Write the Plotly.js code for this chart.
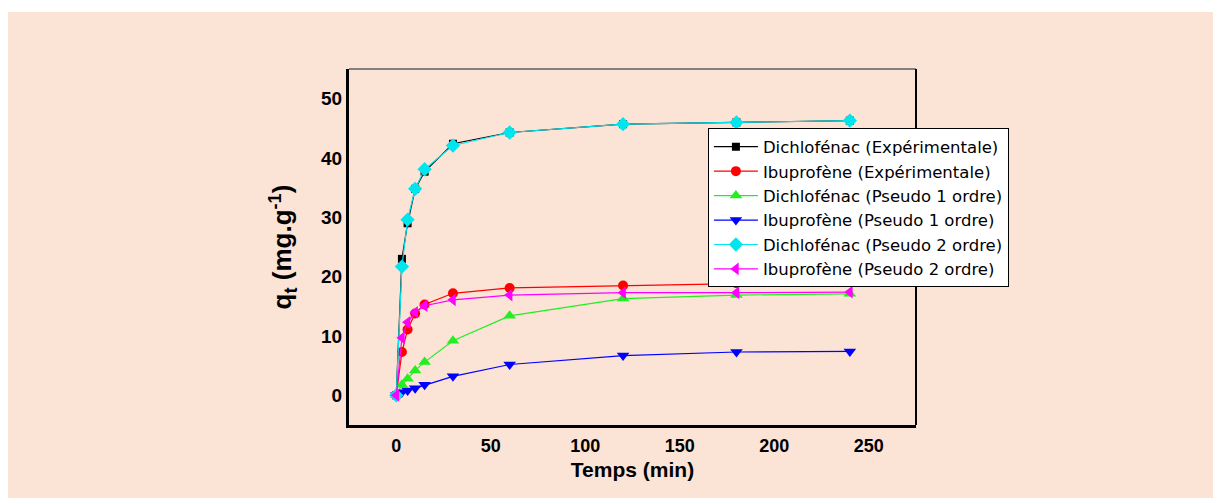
<!DOCTYPE html>
<html>
<head>
<meta charset="utf-8">
<script src="https://cdn.plot.ly/plotly-3.0.1.min.js"></script>
<style>
  html, body { margin: 0; padding: 0; background: #ffffff; width: 1213px; height: 498px; overflow: hidden; }
  #chart { position: absolute; left: 8px; top: 12px; width: 1205px; height: 486px; }
</style>
</head>
<body>
<div id="chart"></div>
<script>
// Time points (min)
const temps = [0, 3, 6, 10, 15, 30, 60, 120, 180, 240];

// q_t values (mg/g)
const dichloExp   = [0, 23.0, 29.0, 34.8, 37.7, 42.4, 44.3, 45.7, 46.0, 46.3];
const ibuExp      = [0, 7.3, 11.1, 13.8, 15.3, 17.2, 18.1, 18.5, 18.9, 19.2];
const dichloPs1   = [0, 1.8, 2.8, 4.2, 5.6, 9.2, 13.4, 16.3, 16.9, 17.1];
const ibuPs1      = [0, 0.5, 0.8, 1.2, 1.8, 3.2, 5.2, 6.7, 7.3, 7.4];
const dichloPs2   = [0, 21.7, 29.6, 34.8, 38.1, 42.1, 44.3, 45.7, 46.0, 46.3];
const ibuPs2      = [0, 9.7, 12.3, 14.0, 15.1, 16.1, 16.9, 17.3, 17.3, 17.4];

const seriesNames = [
  'Dichlofénac (Expérimentale)',
  'Ibuprofène (Expérimentale)',
  'Dichlofénac (Pseudo 1 ordre)',
  'Ibuprofène (Pseudo 1 ordre)',
  'Dichlofénac (Pseudo 2 ordre)',
  'Ibuprofène (Pseudo 2 ordre)'
];
const xTicks = [0, 50, 100, 150, 200, 250];
const yTicks = [0, 10, 20, 30, 40, 50];

const seriesData = [dichloExp, ibuExp, dichloPs1, ibuPs1, dichloPs2, ibuPs2];
const colors  = ['#000000', '#FF0000', '#22EE22', '#0000FF', '#00E5EE', '#FF00FF'];
const symbols = ['square', 'circle', 'triangle-up', 'triangle-down', 'diamond', 'triangle-left'];
const sizes   = [8, 10, 11, 11, 11, 11];

const traces = seriesData.map((ys, i) => ({
  x: temps,
  y: ys,
  name: seriesNames[i],
  type: 'scatter',
  mode: 'lines+markers',
  line: { color: colors[i], width: 1.2 },
  marker: { color: colors[i], symbol: symbols[i], size: sizes[i] }
}));

const FONT = 'Liberation Sans, Arial, sans-serif';

const layout = {
  width: 1205,
  height: 486,
  paper_bgcolor: '#FBE3D6',
  plot_bgcolor: '#FBE3D6',
  margin: { l: 341, r: 297, t: 57, b: 73, pad: 0 },
  showlegend: true,
  legend: {
    x: 0.633, y: 0.833, xanchor: 'left', yanchor: 'top',
    bgcolor: '#ffffff', bordercolor: '#000000', borderwidth: 1,
    font: { family: 'DejaVu Sans, Verdana, sans-serif', size: 16.5, color: '#000000' },
    itemwidth: 44,
    tracegroupgap: 0
  },
  xaxis: {
    range: [-25, 275],
    tickvals: xTicks,
    ticktext: xTicks.map(String),
    showgrid: false, zeroline: false,
    showline: true, linecolor: '#000000', linewidth: 3,
    ticks: '', ticklabelstandoff: 2,
    tickfont: { family: FONT, size: 18, color: '#000000', weight: 'bold' },
    title: { text: 'Temps (min)', font: { family: FONT, size: 21, color: '#000000', weight: 'bold' }, standoff: 8 }
  },
  yaxis: {
    range: [-5, 55],
    tickvals: yTicks,
    ticktext: yTicks.map(String),
    showgrid: false, zeroline: false,
    showline: true, linecolor: '#000000', linewidth: 3,
    ticks: '', ticklabelstandoff: 0,
    tickfont: { family: FONT, size: 19, color: '#000000', weight: 'bold' },
    title: { text: 'q<sub>t</sub> (mg.g<sup>-1</sup>)', font: { family: FONT, size: 26, color: '#000000', weight: 'bold' }, standoff: 22 }
  },
  shapes: [
    { type: 'line', xref: 'paper', yref: 'paper', x0: 0, x1: 1, y0: 1, y1: 1, line: { color: '#808080', width: 2 } },
    { type: 'line', xref: 'paper', yref: 'paper', x0: 1, x1: 1, y0: 0, y1: 1, line: { color: '#000000', width: 2 } }
  ]
};

Plotly.newPlot('chart', traces, layout, { displayModeBar: false, staticPlot: true });
</script>
</body>
</html>
